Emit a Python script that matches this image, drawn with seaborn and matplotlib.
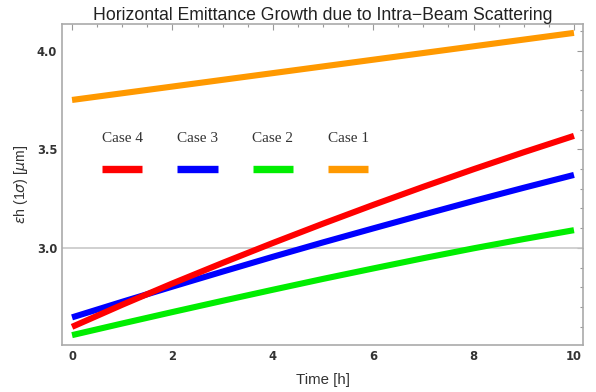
import numpy as np
import pandas as pd
import seaborn as sns
import matplotlib
matplotlib.use("Agg")
import matplotlib.pyplot as plt
from matplotlib.ticker import MultipleLocator

# ---- data ----
time_h = [0, 1, 2, 3, 4, 5, 6, 7, 8, 9, 10]
case1 = [3.750, 3.784, 3.818, 3.852, 3.886, 3.920, 3.954, 3.988, 4.022, 4.056, 4.090]
case2 = [2.558, 2.617, 2.675, 2.732, 2.788, 2.843, 2.896, 2.948, 2.998, 3.045, 3.090]
case3 = [2.648, 2.727, 2.804, 2.880, 2.955, 3.028, 3.099, 3.169, 3.238, 3.305, 3.370]
case4 = [2.600, 2.712, 2.820, 2.924, 3.025, 3.123, 3.218, 3.310, 3.399, 3.485, 3.568]
case_names = ["Case 4", "Case 3", "Case 2", "Case 1"]
case_colors = ["#ff0000", "#0000ff", "#00ee00", "#ff9900"]
legend_x = [1.0, 2.5, 4.0, 5.5]

series = {"Case 1": case1, "Case 2": case2, "Case 3": case3, "Case 4": case4}
df = pd.concat([pd.DataFrame({"time": time_h, "eps": v, "case": k}) for k, v in series.items()],
               ignore_index=True)

sns.set_style("white")
plt.rcParams["font.family"] = ["DejaVu Sans"]

fig = plt.figure(figsize=(5.96, 3.92), dpi=100)
ax = fig.add_axes([62 / 596, 1 - 345 / 392, (583 - 62) / 596, (345 - 24) / 392])

ax.axhline(3.0, color="#c8c8c8", lw=1.2, zorder=1)

palette = dict(zip(case_names, case_colors))
sns.lineplot(data=df, x="time", y="eps", hue="case", palette=palette, lw=4.4,
             legend=False, ax=ax, zorder=3, solid_capstyle="butt")

# manual legend drawn in data coordinates
for name, col, xc in zip(case_names, case_colors, legend_x):
    ax.plot([xc - 0.4, xc + 0.4], [3.40, 3.40], color=col, lw=5.3, solid_capstyle="butt", zorder=3)
    ax.text(xc, 3.553, name, ha="center", va="center", fontsize=11,
            family=["Liberation Serif"], color="#333333")

ax.set_xlim(-0.2, 10.18)
ax.set_ylim(2.508, 4.135)
ax.xaxis.set_major_locator(MultipleLocator(2))
ax.xaxis.set_minor_locator(MultipleLocator(0.5))
ax.yaxis.set_major_locator(MultipleLocator(0.5))
ax.yaxis.set_minor_locator(MultipleLocator(0.1))
ax.yaxis.set_major_formatter(matplotlib.ticker.FormatStrFormatter("%.1f"))
ax.tick_params(which="both", direction="in", top=True, right=True, color="#999999",
               labelcolor="#333333", labelsize=8.3, width=0.8)
ax.tick_params(which="major", length=4)
ax.tick_params(which="minor", length=2.5)
ax.tick_params(axis="both", which="both", labeltop=False, labelright=False)
for lbl in ax.get_xticklabels() + ax.get_yticklabels():
    lbl.set_fontweight("bold")
for sp in ax.spines.values():
    sp.set_color("#aaaaaa")
    sp.set_linewidth(1.2)

ax.set_title("Horizontal Emittance Growth due to Intra\u2212Beam Scattering",
             fontsize=12.7, color="#222222", pad=3, family=["Liberation Sans"])
ax.set_xlabel("Time [h]", fontsize=10.8, color="#333333", family=["Liberation Sans"], labelpad=7)
ax.set_ylabel(r"$\epsilon$h (1$\sigma$) [$\mu$m]", fontsize=10.2, color="#333333",
              family=["Liberation Sans"], labelpad=5)

fig.savefig("out.png", dpi=100)
